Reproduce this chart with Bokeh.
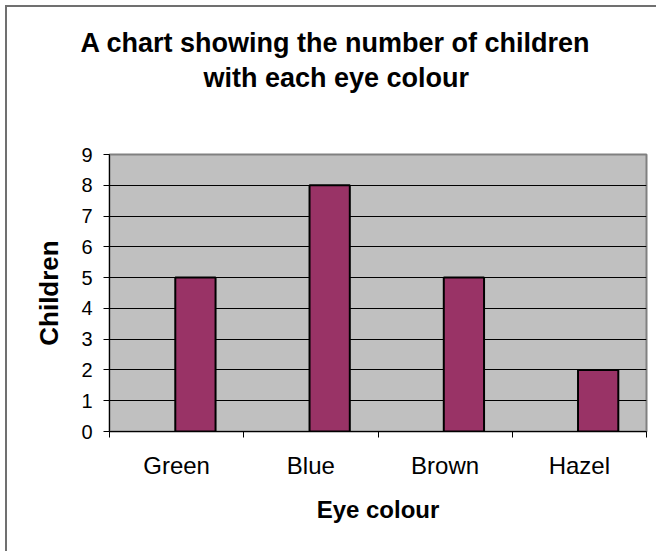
from bokeh.plotting import figure
from bokeh.models import Range1d, FixedTicker, Title, ColumnDataSource
from bokeh.transform import dodge
from bokeh.embed import file_html
from bokeh.resources import INLINE

categories = ["Green", "Blue", "Brown", "Hazel"]
children = [5, 8, 5, 2]
y_ticks = [0, 1, 2, 3, 4, 5, 6, 7, 8, 9]
title_lines = ["A chart showing the number of children", "with each eye colour"]
x_title = "Eye colour"
y_title = "Children"

FONT = "Liberation Sans"
positions = [i + 1 for i in range(len(categories))]
source = ColumnDataSource(dict(pos=positions, children=children, cat=categories))

p = figure(
    frame_width=537, frame_height=277,
    min_border_left=102, min_border_right=10, min_border_top=147, min_border_bottom=120,
    x_range=Range1d(0.5, len(categories) + 0.5),
    y_range=Range1d(0, 9),
    output_backend="svg", toolbar_location=None,
)
p.styles = {"margin-left": "5px", "margin-top": "5px",
            "border-left": "2px solid #707070", "border-top": "2px solid #707070"}
p.background_fill_color = "#C0C0C0"
p.border_fill_color = "white"
p.outline_line_color = "#808080"
p.outline_line_width = 2

p.vbar(x=dodge("pos", 0.14, range=p.x_range), top="children", width=0.30, source=source,
       fill_color="#993366", line_color="black", line_width=2)

# x axis
xa = p.xaxis[0]
xa.ticker = FixedTicker(ticks=positions, minor_ticks=[q - 0.5 for q in positions] + [positions[-1] + 0.5])
xa.major_label_overrides = {q: c for q, c in zip(positions, categories)}
xa.major_tick_out = 0
xa.major_tick_in = 0
xa.minor_tick_out = 6
xa.minor_tick_in = 0
xa.minor_tick_line_color = "black"
xa.axis_line_color = "black"
xa.axis_line_width = 1
xa.major_label_text_font = FONT
xa.major_label_text_font_size = "24px"
xa.major_label_text_color = "black"
xa.major_label_standoff = 14
xa.axis_label = x_title
xa.axis_label_text_font = FONT
xa.axis_label_text_font_size = "24px"
xa.axis_label_text_font_style = "bold"
xa.axis_label_text_color = "black"
xa.axis_label_standoff = 14

# y axis
ya = p.yaxis[0]
ya.ticker = FixedTicker(ticks=y_ticks)
ya.major_tick_out = 6
ya.major_tick_in = 0
ya.minor_tick_out = 0
ya.minor_tick_in = 0
ya.major_tick_line_color = "black"
ya.axis_line_color = "black"
ya.axis_line_width = 1
ya.major_label_text_font = FONT
ya.major_label_text_font_size = "20px"
ya.major_label_text_color = "black"
ya.major_label_standoff = 11
ya.axis_label = y_title
ya.axis_label_text_font = FONT
ya.axis_label_text_font_size = "26px"
ya.axis_label_text_font_style = "bold"
ya.axis_label_text_color = "black"
ya.axis_label_standoff = 14

p.xgrid.visible = False
p.ygrid.grid_line_color = "black"
p.ygrid.grid_line_width = 1

# title: panels stack outward from the frame; a blank spacer first, then line 2, then line 1
p.title.visible = False
title_style = dict(align="left", text_font=FONT, text_font_size="27px",
                   text_font_style="bold", text_color="black")
p.add_layout(Title(text=" ", standoff=30, **title_style), "above")
p.add_layout(Title(text=title_lines[1], offset=94, standoff=0, **title_style), "above")
p.add_layout(Title(text=title_lines[0], offset=-29, standoff=5, **title_style), "above")

open("out.html", "w").write(file_html(p, INLINE))
